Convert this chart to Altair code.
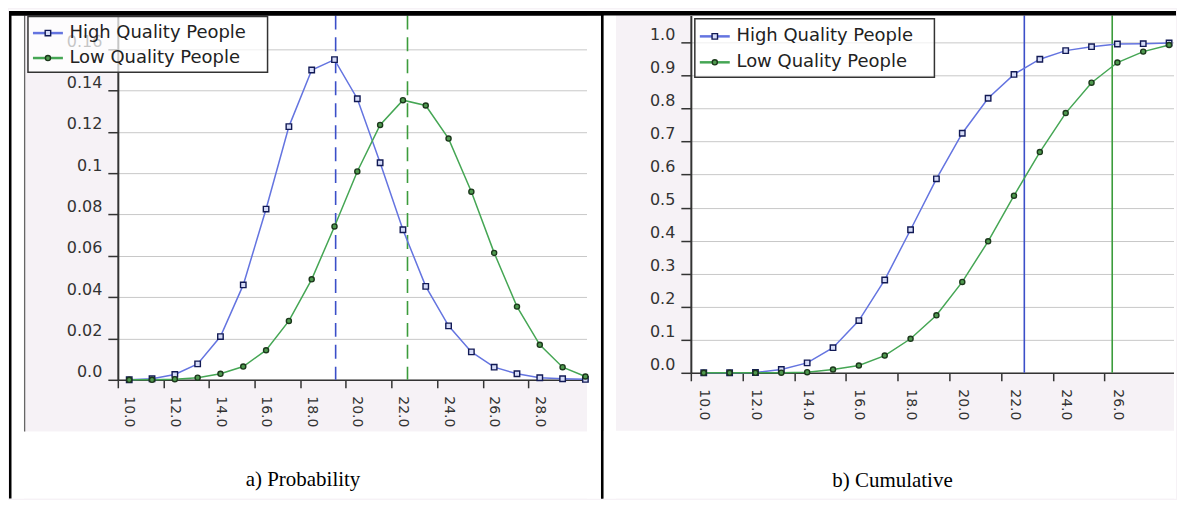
import altair as alt
import pandas as pd

# ---------------- data ----------------
SERIES = ["High Quality People", "Low Quality People"]
CAPTIONS = ["a) Probability", "b) Cumulative"]

PROB_BINS = list(range(10, 31))
PROB_HIGH = [0.0000, 0.0005, 0.0026, 0.0077, 0.0209, 0.0459, 0.0826, 0.1225,
             0.1499, 0.1549, 0.1360, 0.1050, 0.0726, 0.0452, 0.0261, 0.0135,
             0.0061, 0.0029, 0.0010, 0.0005, 0.0002]
PROB_LOW = [0.0000, 0.0000, 0.0003, 0.0010, 0.0029, 0.0064, 0.0143, 0.0285,
            0.0486, 0.0742, 0.1008, 0.1233, 0.1353, 0.1327, 0.1167, 0.0910,
            0.0614, 0.0354, 0.0169, 0.0061, 0.0016]
PROB_MARKS = [19.55, 22.7]
PROB_XTICKS = [10, 12, 14, 16, 18, 20, 22, 24, 26, 28]
PROB_YTICKS = [0.0, 0.02, 0.04, 0.06, 0.08, 0.1, 0.12, 0.14, 0.16]

CUM_BINS = list(range(10, 29))
CUM_HIGH = [0.000, 0.000, 0.001, 0.010, 0.030, 0.076, 0.158, 0.281, 0.433,
            0.587, 0.725, 0.831, 0.903, 0.949, 0.975, 0.987, 0.995, 0.996, 0.998]
CUM_LOW = [0.000, 0.000, 0.000, 0.0005, 0.002, 0.010, 0.022, 0.052, 0.103,
           0.174, 0.275, 0.398, 0.536, 0.668, 0.786, 0.878, 0.939, 0.972, 0.992]
CUM_MARKS = [22.9, 26.3]
CUM_XTICKS = [10, 12, 14, 16, 18, 20, 22, 24, 26]
CUM_YTICKS = [0.0, 0.1, 0.2, 0.3, 0.4, 0.5, 0.6, 0.7, 0.8, 0.9, 1.0]

# ---------------- styles ----------------
FONT = "DejaVu Sans"
SERIF = "Liberation Serif"
LIGHT = "#f6f2f6"
AXIS_C = "#333333"
GRID_C = "#c8c8c8"
LINE_C = ["#6474e0", "#45a654"]
MARK_STROKE = ["#121a55", "#1c381c"]
MARK_FILL = ["#d6dcf8", "#4f9a4f"]
SHAPES = ["square", "circle"]
SIZES = [30, 26]
RULE_C = ["#3b4fc8", "#3c9c3c"]

ONE = pd.DataFrame({"k": [0]})


def box(x1, x2, y1, y2, **style):
    return alt.Chart(ONE).mark_rect(**style).encode(
        x=alt.value(x1), x2=alt.value(x2), y=alt.value(y1), y2=alt.value(y2))


def panel(bins, vals, marks, dash, xticks, yticks, ylab_expr, xdom, ydom,
          W, H, xlab_off, leg, covers, blacks, caption, cap_xy, edge=None):
    x_axis = alt.Axis(values=xticks, labelExpr="format(datum.value, '.1f')",
                      labelAngle=90, labelOffset=xlab_off, labelPadding=8,
                      tickSize=8, tickWidth=1.5, tickColor=AXIS_C,
                      domainColor=AXIS_C, domainWidth=1.5, grid=False,
                      labelFont=FONT, labelFontSize=14, labelColor=AXIS_C,
                      labelFlush=False, labelOverlap=False, title=None)
    y_axis = alt.Axis(values=yticks, labelExpr=ylab_expr, grid=True,
                      gridColor=GRID_C, gridWidth=1, tickSize=10, tickWidth=1.5,
                      tickColor=AXIS_C, domainColor=AXIS_C, domainWidth=2,
                      labelFont=FONT, labelFontSize=16, labelColor=AXIS_C,
                      labelPadding=6, labelBaseline="alphabetic", labelOffset=-3,
                      labelFlush=False, labelOverlap=False, title=None)
    xs = alt.Scale(domain=xdom, nice=False, zero=False)
    ys = alt.Scale(domain=ydom, nice=False, zero=False)

    layers = []
    # white page areas
    for c in covers:
        layers.append(box(*c, fill="white"))
    if edge is not None:
        layers.append(box(*edge, fill="#666666"))

    # vertical marker lines
    for i, v in enumerate(marks):
        style = dict(color=RULE_C[i], strokeWidth=1.6)
        if dash:
            style["strokeDash"] = [14, 8]
        layers.append(
            alt.Chart(pd.DataFrame({"v": [v]})).mark_rule(**style).encode(
                x=alt.X("v:Q", scale=xs, axis=x_axis, title=None)))

    # series
    for i, name in enumerate(SERIES):
        df = pd.DataFrame({"bin": bins, "val": vals[i]})
        base = alt.Chart(df).transform_calculate(xc="datum.bin + 0.5")
        enc = dict(x=alt.X("xc:Q", scale=xs, axis=x_axis, title=None),
                   y=alt.Y("val:Q", scale=ys, axis=y_axis, title=None))
        layers.append(base.mark_line(color=LINE_C[i], strokeWidth=1.5).encode(**enc))
    for i, name in enumerate(SERIES):
        df = pd.DataFrame({"bin": bins, "val": vals[i]})
        base = alt.Chart(df).transform_calculate(xc="datum.bin + 0.5")
        enc = dict(x=alt.X("xc:Q", scale=xs, axis=x_axis, title=None),
                   y=alt.Y("val:Q", scale=ys, axis=y_axis, title=None))
        layers.append(base.mark_point(shape=SHAPES[i], filled=True,
                                      fill=MARK_FILL[i], stroke=MARK_STROKE[i],
                                      strokeWidth=1.4, size=SIZES[i],
                                      opacity=1).encode(**enc))

    # legend
    lx1, lx2, ly1, ly2, sx1, sx2, rows, tx = leg
    layers.append(box(lx1, lx2, ly1, ly2, fill="white", fillOpacity=0.72,
                      stroke=AXIS_C, strokeWidth=1.5))
    for i, name in enumerate(SERIES):
        yy = rows[i]
        layers.append(alt.Chart(ONE).mark_rule(color=LINE_C[i], strokeWidth=2.5).encode(
            x=alt.value(sx1), x2=alt.value(sx2), y=alt.value(yy)))
        layers.append(alt.Chart(ONE).mark_point(
            shape=SHAPES[i], filled=True, fill=MARK_FILL[i], stroke=MARK_STROKE[i],
            strokeWidth=1.4, size=SIZES[i], opacity=1).encode(
            x=alt.value((sx1 + sx2) / 2), y=alt.value(yy)))
        layers.append(alt.Chart(ONE).mark_text(
            text=name, align="left", baseline="middle", font=FONT, fontSize=18,
            color="#222222").encode(x=alt.value(tx), y=alt.value(yy)))

    # black table borders drawn last among the decorations
    for b in blacks:
        layers.append(box(*b, fill="black"))

    # caption
    layers.append(alt.Chart(ONE).mark_text(
        text=caption, align="center", baseline="alphabetic", font=SERIF,
        fontSize=21, color="black").encode(
        x=alt.value(cap_xy[0]), y=alt.value(cap_xy[1])))

    return alt.layer(*layers).properties(width=W, height=H)


# left panel: plot origin at page (117, 14), 470 x 365
left = panel(
    PROB_BINS, [PROB_HIGH, PROB_LOW], PROB_MARKS, True,
    PROB_XTICKS, PROB_YTICKS,
    "datum.value == 0 ? '0.0' : format(datum.value, '.2~f')",
    [10, 30.57], [0, 0.1763], 470, 365, 11,
    (-90, 150, 1, 57, -85, -55, [17.7, 42.7], -48.5),
    [(-109, 487, -6, -4), (-109, -94, -4, 484), (470, 487, -4, 484),
     (-109, 487, 416.7, 484)],
    [(-109, 487, -4.5, 0), (-109, -106.5, -4, 484), (484, 486.5, -4, 484)],
    CAPTIONS[0], (185.5, 471),
    edge=(-94, -92.7, 0, 416.7),
)

# right panel: plot origin at page (691, 14), 484 x 358
# its top border spans the full figure width (drawn last, over everything)
right = panel(
    CUM_BINS, [CUM_HIGH, CUM_LOW], CUM_MARKS, False,
    CUM_XTICKS, CUM_YTICKS,
    "format(datum.value, '.1f')",
    [10, 28.69], [0, 1.0816], 484, 358, 13,
    (4, 244, 3.3, 62, 9, 39, [21, 47], 45.7),
    [(-87.5, 486, -6, -4.5), (-87.5, -75, -4, 484), (484, 486, -4, 484),
     (-87.5, 486, 416, 484)],
    [(-683, 486, -4.5, 0), (-90, -87.5, -4, 484)],
    CAPTIONS[1], (202, 472.7),
)

chart = alt.hconcat(left, right, spacing=104, bounds="flush").properties(
    background=LIGHT, padding=0
).configure(font=FONT).configure_view(fill="white", stroke="transparent")

chart.save("out.html", embed_options={"renderer": "svg", "actions": False})
